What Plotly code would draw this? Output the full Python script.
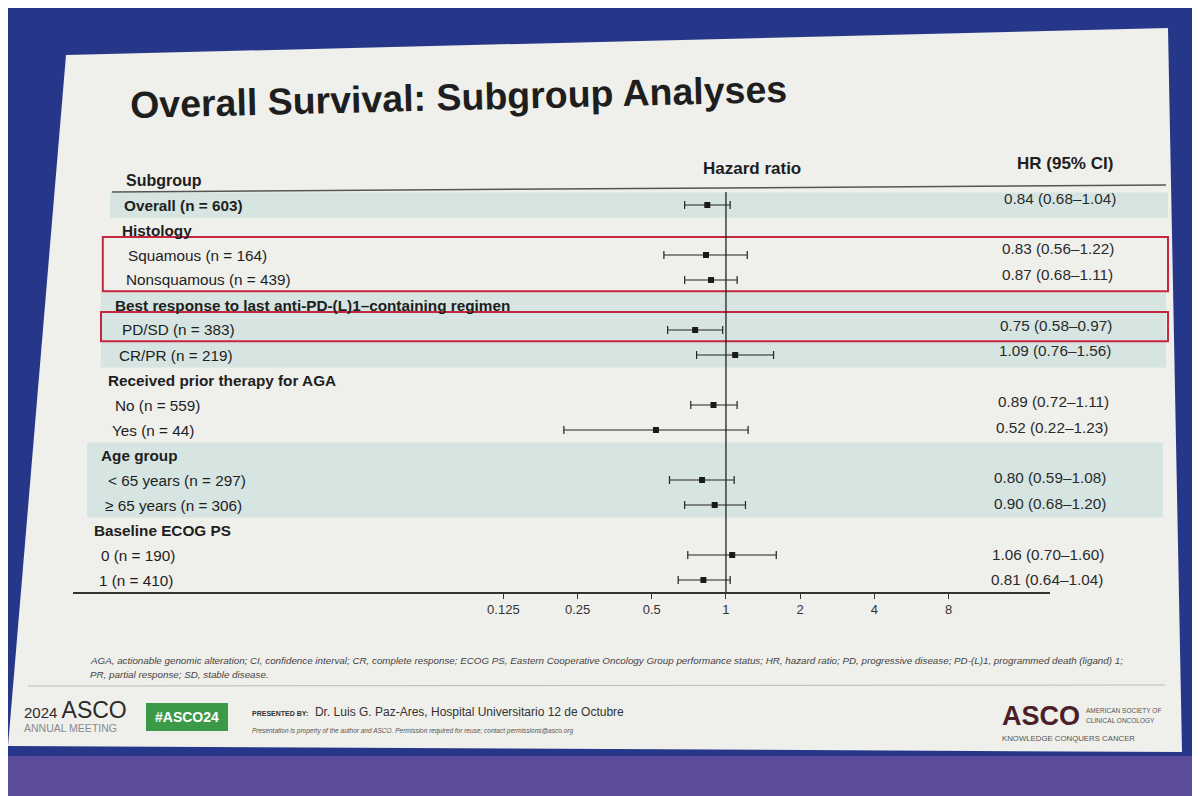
import plotly.graph_objects as go

# subgroup rows, top to bottom
labels = ["Overall (n = 603)", "Histology", "Squamous (n = 164)", "Nonsquamous (n = 439)",
          "Best response to last anti-PD-(L)1–containing regimen", "PD/SD (n = 383)", "CR/PR (n = 219)",
          "Received prior therapy for AGA", "No (n = 559)", "Yes (n = 44)",
          "Age group", "< 65 years (n = 297)", "≥ 65 years (n = 306)",
          "Baseline ECOG PS", "0 (n = 190)", "1 (n = 410)"]
is_header = [True, True, False, False, True, False, False, True, False, False,
             True, False, False, True, False, False]
hr = [0.84, None, 0.83, 0.87, None, 0.75, 1.09, None, 0.89, 0.52, None, 0.80, 0.90, None, 1.06, 0.81]
ci_lo = [0.68, None, 0.56, 0.68, None, 0.58, 0.76, None, 0.72, 0.22, None, 0.59, 0.68, None, 0.70, 0.64]
ci_hi = [1.04, None, 1.22, 1.11, None, 0.97, 1.56, None, 1.11, 1.23, None, 1.08, 1.20, None, 1.60, 1.04]
tick_vals = [0.125, 0.25, 0.5, 1, 2, 4, 8]
tick_text = ["0.125", "0.25", "0.5", "1", "2", "4", "8"]
shaded_groups = [(0, 0), (4, 6), (10, 12)]
boxed_groups = [(2, 3), (5, 5)]

# page body has an 8px margin, so the figure is drawn 8px in from the window edge
OFF = 8
W, H = 1200 - OFF, 796 - OFF
FONT = "Liberation Sans, Arial, sans-serif"
ROW0, ROWH = 205, 25   # screen y of the first row, row pitch


def px(x):
    return (x - OFF) / W


def py(y):
    return 1 - (y - OFF) / H


def row_y(i):
    return py(ROW0 + ROWH * i)


rows = list(range(len(labels)))
pts = [i for i in rows if hr[i] is not None]

fig = go.Figure()
fig.add_trace(go.Scatter(
    x=[hr[i] for i in pts], y=pts, mode="markers",
    marker=dict(symbol="square", size=6, color="#1a1a1a"),
    error_x=dict(type="data", symmetric=False,
                 array=[ci_hi[i] - hr[i] for i in pts],
                 arrayminus=[hr[i] - ci_lo[i] for i in pts],
                 color="#222222", thickness=1.2, width=4),
    showlegend=False, hoverinfo="skip"))

shapes = []
# purple glow at bottom of the photo
shapes.append(dict(type="rect", xref="paper", yref="paper", x0=0, x1=1, y0=-0.02, y1=py(756),
                   fillcolor="#5d4c9c", line=dict(width=0), layer="below"))
# slide
shapes.append(dict(type="path", xref="paper", yref="paper",
                   path=f"M {px(66)},{py(55)} L {px(1168)},{py(28)} L {px(1182)},{py(752)} L {px(8)},{py(746)} Z",
                   fillcolor="#efefeb", line=dict(width=0), layer="below"))
# shaded bands
for a, b in shaded_groups:
    shapes.append(dict(type="rect", xref="paper", yref="y", x0=px(110 - 2.3 * a), x1=px(1168 - 0.5 * a),
                       y0=a - 0.5, y1=b + 0.5, fillcolor="#d6e5e1", line=dict(width=0), layer="below"))
# highlight boxes
for a, b in boxed_groups:
    shapes.append(dict(type="rect", xref="paper", yref="y", x0=px(104 - 0.6 * a), x1=px(1168),
                       y0=a - 0.72, y1=b + 0.45, line=dict(color="#c4273f", width=2)))
# header rule
shapes.append(dict(type="line", xref="paper", yref="paper", x0=px(112), x1=px(1166),
                   y0=py(192), y1=py(185), line=dict(color="#555555", width=1.5)))
# reference line at HR = 1
shapes.append(dict(type="line", xref="x", yref="y", x0=1, x1=1, y0=-0.7, y1=15.48,
                   line=dict(color="#222222", width=1.3)))
# footer rule
shapes.append(dict(type="line", xref="paper", yref="paper", x0=px(28), x1=px(1165),
                   y0=py(686), y1=py(685), line=dict(color="#bbbbbb", width=1)))
# green hashtag box
shapes.append(dict(type="rect", xref="paper", yref="paper", x0=px(146), x1=px(228),
                   y0=py(731), y1=py(703), fillcolor="#3b9a48", line=dict(width=0)))

ann = []
for i in rows:
    x0 = (122 if is_header[i] else 131) - 2.3 * i
    label = f"<b>{labels[i]}</b>" if is_header[i] else labels[i]
    ann.append(dict(x=px(x0), y=row_y(i), xref="paper", yref="paper", text=label, showarrow=False,
                    xanchor="left", yanchor="middle", font=dict(size=15.3, color="#1e1e1e", family=FONT)))
    if hr[i] is not None:
        ann.append(dict(x=px(1118 - 0.87 * i), y=py(ROW0 + ROWH * i - 7 + 0.45 * i), xref="paper", yref="paper",
                        text=f"{hr[i]:.2f} ({ci_lo[i]:.2f}–{ci_hi[i]:.2f})", showarrow=False,
                        xanchor="right", yanchor="middle", font=dict(size=15.3, color="#2a2a2a", family=FONT)))


def txt(x, y, s, size, anchor="left", color="#1e1e1e", **kw):
    ann.append(dict(x=px(x), y=py(y), xref="paper", yref="paper", text=s, showarrow=False,
                    xanchor=anchor, yanchor="middle", font=dict(size=size, color=color, family=FONT), **kw))


txt(128, 97, "<b>Overall Survival: Subgroup Analyses</b>", 37.5, textangle=-1.4)
txt(124, 180, "<b>Subgroup</b>", 16)
txt(752, 169, "<b>Hazard ratio</b>", 17, anchor="center")
txt(1115, 163, "<b>HR (95% CI)</b>", 17, anchor="right")
txt(88, 660, "<i>AGA, actionable genomic alteration; CI, confidence interval; CR, complete response; ECOG PS, "
             "Eastern Cooperative Oncology Group performance status; HR, hazard ratio; PD, progressive disease; "
             "PD-(L)1, programmed death (ligand) 1;</i>", 9.8, color="#444444")
txt(88, 674, "<i>PR, partial response; SD, stable disease.</i>", 9.8, color="#444444")
txt(22, 710, "<span style='font-size:15px'>2024 </span>ASCO", 23, color="#2b2b2b")
txt(22, 728, "ANNUAL MEETING", 10.5, color="#8a8a8a")
txt(187, 717, "<b>#ASCO24</b>", 14, anchor="center", color="#ffffff")
txt(250, 712, "<span style='font-size:7px'><b>PRESENTED BY:</b></span>  Dr. Luis G. Paz-Ares, Hospital Universitario 12 de Octubre",
    12, color="#333333")
txt(250, 731, "<i>Presentation is property of the author and ASCO. Permission required for reuse; contact permissions@asco.org</i>",
    6.5, color="#555555")
txt(1000, 716, "<b>ASCO</b>", 27, color="#4a1f2a")
txt(1084, 710, "AMERICAN SOCIETY OF", 6.5, color="#555555")
txt(1084, 720, "CLINICAL ONCOLOGY", 6.5, color="#555555")
txt(1000, 738, "KNOWLEDGE CONQUERS CANCER", 7.8, color="#555555")

fig.update_layout(
    width=W, height=H, margin=dict(l=0, r=0, t=0, b=0),
    paper_bgcolor="#26378a", plot_bgcolor="rgba(0,0,0,0)",
    shapes=shapes, annotations=ann, font=dict(family=FONT),
    xaxis=dict(type="log", domain=[px(73), px(1050)], range=[-2.649, 1.3146],
               tickvals=tick_vals, ticktext=tick_text, ticks="outside", ticklen=5,
               tickcolor="#333333", showline=True, linecolor="#333333", linewidth=1.5,
               showgrid=False, zeroline=False, tickfont=dict(size=13, color="#333333", family=FONT)),
    yaxis=dict(domain=[py(592), py(192)], range=[15.48, -0.52], visible=False,
               showgrid=False, zeroline=False),
)

fig.write_html("out.html")
